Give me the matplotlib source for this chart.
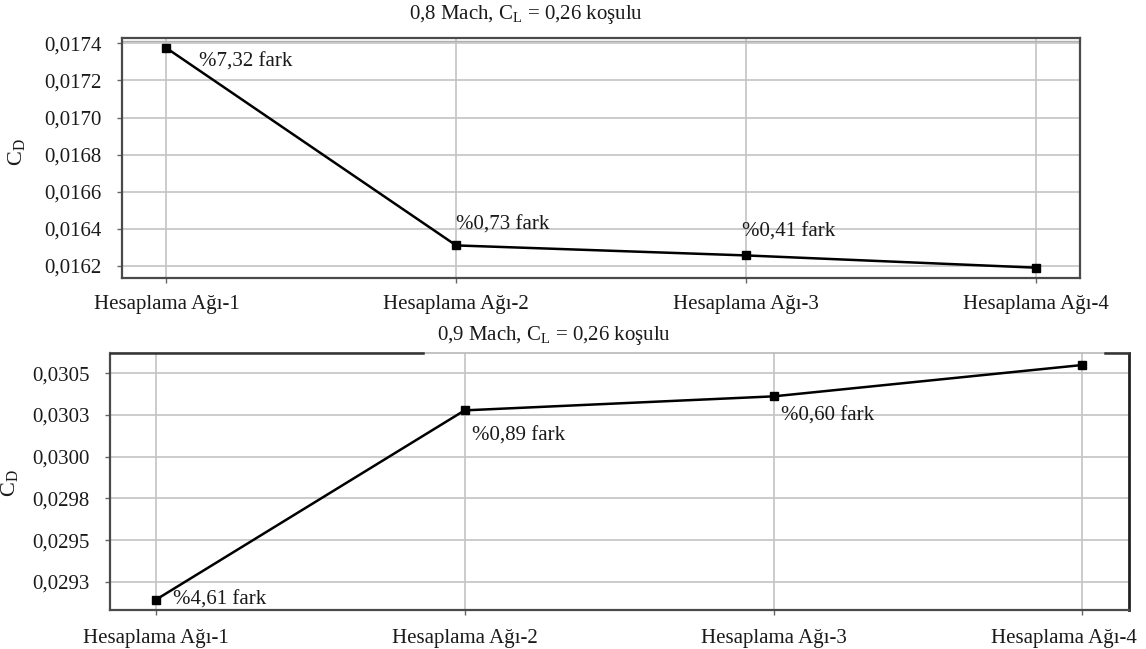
import matplotlib
matplotlib.use("Agg")
import matplotlib.pyplot as plt
import matplotlib.transforms as mtransforms
from matplotlib.ticker import FixedLocator, FixedFormatter

plt.rcParams["font.family"] = ["Liberation Serif", "DejaVu Serif"]
plt.rcParams["mathtext.fontset"] = "custom"
plt.rcParams["mathtext.rm"] = "Liberation Serif"
plt.rcParams["mathtext.it"] = "Liberation Serif:italic"

# mesh names shared by both panels
meshes = ["Hesaplama Ağı-1", "Hesaplama Ağı-2", "Hesaplama Ağı-3", "Hesaplama Ağı-4"]

# drag coefficient, 0.8 Mach
cd_m08 = [0.017375, 0.016310, 0.016256, 0.016190]
diff_m08 = ["%7,32 fark", "%0,73 fark", "%0,41 fark", None]
yticks_m08 = [0.0162, 0.0164, 0.0166, 0.0168, 0.0170, 0.0172, 0.0174]
ylabels_m08 = ["0,0162", "0,0164", "0,0166", "0,0168", "0,0170", "0,0172", "0,0174"]

# drag coefficient, 0.9 Mach
cd_m09 = [0.029142, 0.030278, 0.030362, 0.030550]
diff_m09 = ["%4,61 fark", "%0,89 fark", "%0,60 fark", None]
yticks_m09 = [0.02925, 0.0295, 0.02975, 0.0300, 0.03025, 0.0305]
ylabels_m09 = ["0,0293", "0,0295", "0,0298", "0,0300", "0,0303", "0,0305"]

FS = 15
TXT = "#1a1a1a"
GRID = "#c4c4c4"
SPINE = "#4a4a4a"

fig = plt.figure(figsize=(11.46, 6.49), dpi=100)
ax1 = fig.add_axes([0.1065, 0.5716, 0.8359, 0.3698])
ax2 = fig.add_axes([0.0960, 0.0601, 0.8892, 0.3960])


def style_axes(ax, yticks, ylabels, ylim, xlim, xpad):
    x = range(len(meshes))
    ax.set_xlim(*xlim)
    ax.set_ylim(*ylim)
    ax.xaxis.set_major_locator(FixedLocator(list(x)))
    ax.xaxis.set_major_formatter(FixedFormatter(meshes))
    ax.yaxis.set_major_locator(FixedLocator(yticks))
    ax.yaxis.set_major_formatter(FixedFormatter(ylabels))
    ax.grid(True, color=GRID, linewidth=1.2, zorder=0)
    ax.set_axisbelow(True)
    ax.tick_params(axis="both", direction="out", length=3.5, width=1.0,
                   color="#666666", labelsize=FS, labelcolor=TXT)
    ax.tick_params(axis="x", pad=xpad)
    ax.tick_params(axis="y", pad=11)
    for side in ["left", "bottom", "right", "top"]:
        ax.spines[side].set_color(SPINE)
        ax.spines[side].set_linewidth(1.6)


style_axes(ax1, yticks_m08, ylabels_m08, (0.016134, 0.017429), (-0.153, 3.153), 9)
style_axes(ax2, yticks_m09, ylabels_m09, (0.029081, 0.030622), (-0.148, 3.151), 10.5)

ax1.plot(range(len(meshes)), cd_m08, color="black", linewidth=1.8,
         marker="s", markersize=6, zorder=3)
ax2.plot(range(len(meshes)), cd_m09, color="black", linewidth=1.8,
         marker="s", markersize=6, zorder=3)

# keep the last category label of the lower panel inside the figure
fig.canvas.draw()
last = ax2.get_xticklabels()[-1]
last.set_transform(last.get_transform()
                   + mtransforms.ScaledTranslation(-0.18, 0, fig.dpi_scale_trans))

# percentage labels (pixel offsets from each point)
offs_m08 = [(33, -14), (0, 20), (-4, 23)]
offs_m09 = [(17, 0), (7, -26), (7, -20)]
for ax, vals, labels, offs in [(ax1, cd_m08, diff_m08, offs_m08),
                               (ax2, cd_m09, diff_m09, offs_m09)]:
    for i, (v, lab) in enumerate(zip(vals, labels)):
        if lab is None:
            continue
        dx, dy = offs[i]
        ax.annotate(lab, (i, v), xytext=(dx, dy), textcoords="offset pixels",
                    ha="left", va="center", fontsize=FS, color=TXT, zorder=4)

# axis labels
ax1.set_ylabel(r"$\mathregular{C_D}$", fontsize=FS + 1, color=TXT)
ax1.yaxis.set_label_coords(-0.099, 0.525)
ax2.set_ylabel(r"$\mathregular{C_D}$", fontsize=FS + 1, color=TXT)
ax2.yaxis.set_label_coords(-0.088, 0.494)

# panel titles
fig.text(409 / 1146, 1 - 15 / 649, r"0,8 Mach, $\mathregular{C_L}$ = 0,26 koşulu",
         ha="left", va="center", fontsize=FS, color=TXT)
fig.text(437 / 1146, 1 - 335 / 649, r"0,9 Mach, $\mathregular{C_L}$ = 0,26 koşulu",
         ha="left", va="center", fontsize=FS, color=TXT)

# inner frame line below the top border of the upper panel
ax1.plot([0, 1], [0.989, 0.989], transform=ax1.transAxes, color="#b0b0b0",
         linewidth=1.0, clip_on=False, zorder=1)

# lower panel: light top border broken only where the outer frame shows
ax2.spines["top"].set_color("#b8b8b8")
ax2.spines["top"].set_linewidth(1.2)
ax2.spines["right"].set_color("#222222")
ax2.spines["right"].set_linewidth(2.0)
ax2.plot([0, 0.307], [1, 1], transform=ax2.transAxes, color="#333333",
         linewidth=1.8, clip_on=False, zorder=5)
ax2.plot([0.976, 1], [1, 1], transform=ax2.transAxes, color="#333333",
         linewidth=1.8, clip_on=False, zorder=5)

fig.savefig("out.png", dpi=100)
